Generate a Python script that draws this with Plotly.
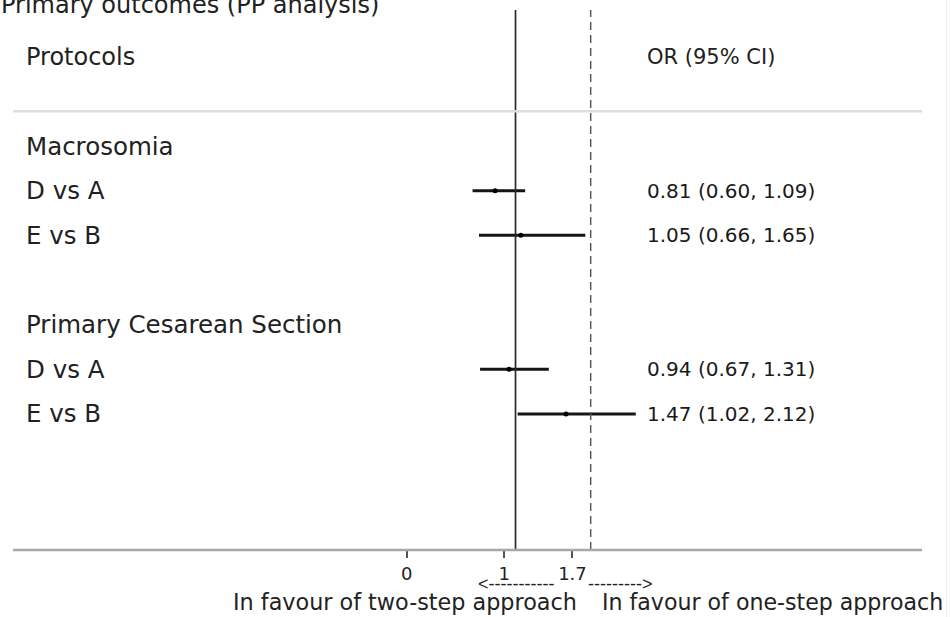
import plotly.graph_objects as go

# ---------------- data ----------------
title = "Primary outcomes (PP analysis)"
col_left = "Protocols"
col_right = "OR (95% CI)"
groups = ["Macrosomia", "Primary Cesarean Section"]
comparisons = [["D vs A", "E vs B"], ["D vs A", "E vs B"]]
or_vals = [[0.81, 1.05], [0.94, 1.47]]
ci_low = [[0.60, 0.66], [0.67, 1.02]]
ci_high = [[1.09, 1.65], [1.31, 2.12]]
tick_vals = [0, 1, 1.7]
tick_text = ["0", "1", "1.7"]
left_note = "In favour of two-step approach"
right_note = "In favour of one-step approach"
left_arrow = "<-----------"
right_arrow = "--------->"
null_line = 1
ref_line = 1.7

# ---------------- layout helpers ----------------
W, H = 951, 617
PLOT_BOTTOM = 550  # pixel of axis line
FONT = "DejaVu Sans"
TXT = "#222222"


def py(p):
    """pixel y -> paper y"""
    return (PLOT_BOTTOM - p) / PLOT_BOTTOM


def px(p):
    return p / W


# rows: header row 0, group header then comparison rows, blank row between groups
rows_lbl, rows_y = [], []
est_rows = []
r = 2
for gi, g in enumerate(groups):
    rows_lbl.append(g)
    rows_y.append(r)
    r += 1
    for ci, c in enumerate(comparisons[gi]):
        rows_lbl.append(c)
        rows_y.append(r)
        est_rows.append((r, or_vals[gi][ci], ci_low[gi][ci], ci_high[gi][ci]))
        r += 1
    r += 1

fig = go.Figure()

# CI lines
xs, ys = [], []
for (ry, o, lo, hi) in est_rows:
    xs += [lo, hi, None]
    ys += [ry, ry, None]
fig.add_trace(go.Scatter(x=xs, y=ys, mode="lines",
                         line=dict(color="#151515", width=3),
                         hoverinfo="skip", showlegend=False))
# point estimates
fig.add_trace(go.Scatter(x=[e[1] for e in est_rows], y=[e[0] for e in est_rows],
                         mode="markers", marker=dict(color="#000000", size=5),
                         hoverinfo="skip", showlegend=False))
# invisible trace to carry the tick axis
fig.add_trace(go.Scatter(x=[0], y=[0], xaxis="x2", mode="markers",
                         marker=dict(opacity=0), hoverinfo="skip", showlegend=False))

shapes = []
# null line (solid) and reference line (dashed)
shapes.append(dict(type="line", xref="x", yref="paper", x0=null_line, x1=null_line,
                   y0=0, y1=py(10), line=dict(color="#2a2a2a", width=1.7)))
shapes.append(dict(type="line", xref="x", yref="paper", x0=ref_line, x1=ref_line,
                   y0=0, y1=py(10), line=dict(color="#5a5a5a", width=1.5, dash="8px,5px")))
# header separator
shapes.append(dict(type="line", xref="paper", yref="paper", x0=px(13), x1=px(922),
                   y0=py(111.3), y1=py(111.3), line=dict(color="#dedede", width=2.5)))
# axis baseline
shapes.append(dict(type="line", xref="paper", yref="paper", x0=px(13), x1=px(922),
                   y0=py(550), y1=py(550), line=dict(color="#a8a8a8", width=2.5)))
# faint right border
shapes.append(dict(type="line", xref="paper", yref="paper", x0=px(946.5), x1=px(946.5),
                   y0=py(617), y1=py(0), line=dict(color="#ececec", width=1)))

ann = []
ann.append(dict(text=title, xref="paper", yref="paper", x=px(-1), y=py(5),
                xanchor="left", yanchor="middle", showarrow=False,
                font=dict(family=FONT, size=24, color=TXT)))
ann.append(dict(text=col_left, xref="paper", yref="y", x=px(24), y=0,
                xanchor="left", yanchor="middle", showarrow=False,
                font=dict(family=FONT, size=24, color=TXT)))
ann.append(dict(text=col_right, xref="paper", yref="y", x=px(645), y=0,
                xanchor="left", yanchor="middle", showarrow=False,
                font=dict(family=FONT, size=21, color=TXT)))
for lbl, ry in zip(rows_lbl, rows_y):
    ann.append(dict(text=lbl, xref="paper", yref="y", x=px(24), y=ry,
                    xanchor="left", yanchor="middle", showarrow=False,
                    font=dict(family=FONT, size=24.5, color=TXT)))
for (ry, o, lo, hi) in est_rows:
    ann.append(dict(text=f"{o:.2f} ({lo:.2f}, {hi:.2f})", xref="paper", yref="y",
                    x=px(645), y=ry, xanchor="left", yanchor="middle", showarrow=False,
                    font=dict(family=FONT, size=20, color="#1a1a1a")))
# direction notes
ann.append(dict(text=left_arrow, xref="paper", yref="paper", x=px(556), y=py(584),
                xanchor="right", yanchor="middle", showarrow=False,
                font=dict(family="Liberation Sans", size=18, color=TXT)))
ann.append(dict(text=right_arrow, xref="paper", yref="paper", x=px(586), y=py(584),
                xanchor="left", yanchor="middle", showarrow=False,
                font=dict(family="Liberation Sans", size=18, color=TXT)))
ann.append(dict(text=left_note, xref="paper", yref="paper", x=px(579), y=py(602),
                xanchor="right", yanchor="middle", showarrow=False,
                font=dict(family=FONT, size=22.3, color=TXT)))
ann.append(dict(text=right_note, xref="paper", yref="paper", x=px(600), y=py(602),
                xanchor="left", yanchor="middle", showarrow=False,
                font=dict(family=FONT, size=22.1, color=TXT)))

fig.update_layout(
    width=W, height=H,
    margin=dict(l=0, r=0, t=0, b=H - PLOT_BOTTOM),
    paper_bgcolor="white", plot_bgcolor="white",
    showlegend=False,
    shapes=shapes, annotations=ann,
    xaxis=dict(range=[-3.80, 5.055], visible=False, fixedrange=True),
    xaxis2=dict(overlaying="x", anchor="y", side="bottom",
                range=[-4.171, 5.582], tickmode="array",
                tickvals=tick_vals, ticktext=tick_text,
                ticks="outside", ticklen=7, tickwidth=1.5, tickcolor="#555555",
                showgrid=False, zeroline=False, showline=False,
                tickfont=dict(family=FONT, size=18, color=TXT)),
    yaxis=dict(range=[11.046, -1.27], visible=False, fixedrange=True),
)

fig.write_html("out.html")
